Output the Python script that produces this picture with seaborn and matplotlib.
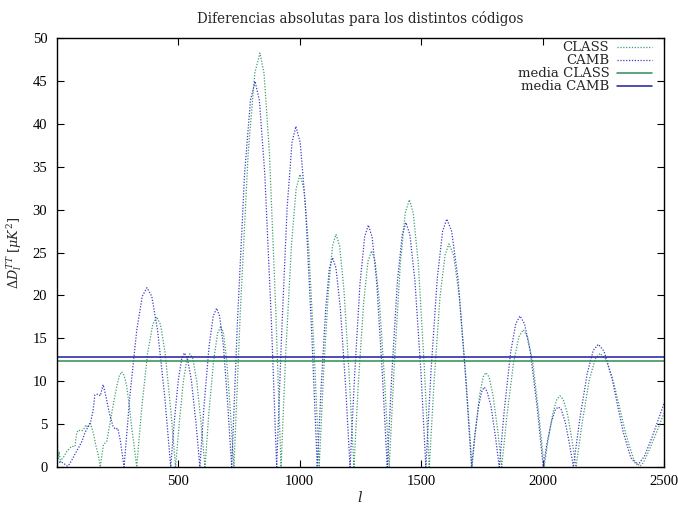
import matplotlib
matplotlib.use("Agg")
import matplotlib.pyplot as plt
import seaborn as sns
import pandas as pd

# ---- data ----
l_camb = [2, 8, 15, 25, 35, 45, 55, 65, 76, 90, 105, 117, 130, 140, 150, 158, 170, 180, 192, 205, 218, 232, 242, 252, 262, 270, 278,
          301, 330, 353, 372, 392, 416, 446, 470,
          484, 501, 515, 526, 539, 555, 574, 590,
          607, 628, 645, 659, 671, 687, 705, 721,
          745, 774, 798, 817, 835, 857, 884, 906,
          926, 949, 969, 985, 1003, 1025, 1051, 1073,
          1089, 1108, 1123, 1136, 1150, 1168, 1190, 1208,
          1227, 1249, 1268, 1283, 1299, 1318, 1341, 1361,
          1380, 1403, 1423, 1438, 1454, 1475, 1500, 1520,
          1541, 1567, 1589, 1606, 1626, 1652, 1682, 1708,
          1721, 1737, 1750, 1760, 1772, 1788, 1806, 1822,
          1843, 1869, 1890, 1907, 1926, 1950, 1979, 2003,
          2018, 2037, 2053, 2065, 2077, 2093, 2111, 2127,
          2153, 2184, 2209, 2230, 2253, 2285, 2308, 2332, 2363, 2387, 2400, 2420, 2450, 2475, 2500]
d_camb = [0.3, 0.5, 0.6, 0.5, 0.3, 0.1, 0.4, 0.9, 1.5, 2.2, 3.0, 4.0, 4.7, 5.2, 6.5, 8.4, 8.5, 8.3, 9.6, 8.0, 6.2, 4.8, 4.4, 4.5, 3.2, 1.6, 0.0,
          8.0, 15.9, 19.9, 20.9, 19.9, 15.9, 8.0, 0.0,
          5.1, 10.1, 12.6, 13.3, 12.6, 10.1, 5.1, 0.0,
          7.1, 14.1, 17.6, 18.5, 17.6, 14.1, 7.1, 0.0,
          17.2, 34.2, 42.7, 44.95, 42.7, 34.2, 17.2, 0.0,
          15.2, 30.2, 37.8, 39.7, 37.8, 30.2, 15.2, 0.0,
          9.3, 18.5, 23.2, 24.4, 23.2, 18.5, 9.3, 0.0,
          10.8, 21.4, 26.8, 28.2, 26.8, 21.4, 10.8, 0.0,
          10.9, 21.7, 27.1, 28.5, 27.1, 21.7, 10.9, 0.0,
          11.1, 22.0, 27.5, 28.9, 27.5, 22.0, 11.1, 0.0,
          3.6, 7.1, 8.8, 9.3, 8.8, 7.1, 3.6, 0.0,
          6.7, 13.4, 16.7, 17.6, 16.7, 13.4, 6.7, 0.0,
          2.7, 5.3, 6.7, 7.0, 6.7, 5.3, 2.7, 0.0,
          5.5, 10.9, 13.6, 14.3, 13.5, 10.5, 7.3, 4.1, 1.1, 0.3, 0.5, 1.3, 3.4, 5.4, 7.4]

l_class = [2, 4, 7, 11, 16, 22, 30, 42, 52, 62, 76, 83, 90, 100, 110, 121, 130, 138, 151, 162, 172, 180,
           193, 207, 220, 235, 248, 258, 268, 278, 289, 300, 309, 320, 330,
           350, 375, 396, 412, 428, 447, 470, 490,
           505, 522, 537, 549, 561, 577, 595, 611,
           627, 647, 663, 676, 687, 700, 716, 730,
           757, 789, 816, 837, 854, 876, 902, 924,
           943, 967, 986, 1002, 1018, 1037, 1061, 1081,
           1098, 1119, 1136, 1150, 1165, 1183, 1205, 1224,
           1242, 1264, 1282, 1297, 1311, 1329, 1351, 1369,
           1390, 1415, 1435, 1452, 1468, 1489, 1513, 1534,
           1554, 1578, 1599, 1615, 1634, 1658, 1686, 1710,
           1724, 1741, 1756, 1767, 1780, 1796, 1816, 1832,
           1854, 1881, 1903, 1921, 1938, 1960, 1985, 2007,
           2023, 2043, 2059, 2072, 2085, 2102, 2121, 2138,
           2163, 2192, 2217, 2237, 2262, 2294, 2319, 2344, 2376, 2401, 2415, 2435, 2460, 2480, 2500]
d_class = [0.5, 2.6, 1.0, 1.8, 0.6, 0.9, 1.2, 1.8, 2.1, 2.4, 2.4, 4.0, 4.3, 4.2, 4.3, 4.9, 4.6, 5.2, 4.0, 2.5, 1.4, 0.0,
           2.6, 3.0, 5.1, 7.5, 9.4, 10.6, 11.1, 10.7, 9.4, 7.0, 4.7, 2.3, 0.0,
           6.7, 13.3, 16.6, 17.5, 16.6, 13.3, 6.7, 0.0,
           5.1, 10.0, 12.6, 13.2, 12.6, 10.0, 5.1, 0.0,
           6.3, 12.5, 15.6, 16.4, 15.6, 12.5, 6.3, 0.0,
           18.5, 36.7, 45.9, 48.25, 45.9, 36.7, 18.5, 0.0,
           13.1, 25.9, 32.4, 34.1, 32.4, 25.9, 13.1, 0.0,
           10.4, 20.6, 25.8, 27.1, 25.8, 20.6, 10.4, 0.0,
           9.7, 19.2, 24.0, 25.2, 24.0, 19.2, 9.7, 0.0,
           11.9, 23.7, 29.6, 31.15, 29.6, 23.7, 11.9, 0.0,
           10.0, 19.8, 24.7, 26.0, 24.7, 19.8, 10.0, 0.0,
           4.2, 8.4, 10.5, 11.0, 10.5, 8.4, 4.2, 0.0,
           6.1, 12.2, 15.2, 16.0, 15.2, 12.2, 6.1, 0.0,
           3.2, 6.3, 7.9, 8.3, 7.9, 6.3, 3.2, 0.0,
           5.1, 10.1, 12.6, 13.25, 12.5, 9.7, 6.7, 3.7, 0.8, 0.1, 0.5, 1.7, 3.4, 4.8, 6.3]

mean_class = 12.3
mean_camb = 12.85
l_range = [2, 2500]

labels = ["CLASS", "CAMB", "media CLASS", "media CAMB"]
x_ticks = [500, 1000, 1500, 2000, 2500]
y_ticks = [0, 5, 10, 15, 20, 25, 30, 35, 40, 45, 50]

# ---- style ----
sns.set_style("ticks")
plt.rcParams["font.family"] = ["DejaVu Serif"]
plt.rcParams["mathtext.fontset"] = "dejavuserif"
plt.rcParams["xtick.direction"] = "in"
plt.rcParams["ytick.direction"] = "in"
plt.rcParams["xtick.top"] = True
plt.rcParams["ytick.right"] = True

fig = plt.figure(figsize=(6.78, 5.07), dpi=100)
ax = fig.add_axes([57 / 678, 40 / 507, (664 - 57) / 678, (467 - 38) / 507])

c_class_dot = "#3f9e6e"
c_camb_dot = "#3c3cc8"
c_class = "#2e8b57"
c_camb = "#1c1ca0"

sns.lineplot(x=l_class, y=d_class, ax=ax, color=c_class_dot, lw=0.9,
             linestyle=(0, (1, 1.3)), sort=False, estimator=None, label=labels[0])
sns.lineplot(x=l_camb, y=d_camb, ax=ax, color=c_camb_dot, lw=0.9,
             linestyle=(0, (1, 1.3)), sort=False, estimator=None, label=labels[1])
sns.lineplot(x=l_range, y=[mean_class, mean_class], ax=ax, color=c_class, lw=1.1,
             sort=False, estimator=None, label=labels[2])
sns.lineplot(x=l_range, y=[mean_camb, mean_camb], ax=ax, color=c_camb, lw=1.1,
             sort=False, estimator=None, label=labels[3])

ax.set_xlim(2, 2500)
ax.set_ylim(0, 50)
ax.set_xticks(x_ticks)
ax.set_yticks(y_ticks)
ax.tick_params(axis="both", length=5, width=0.8, colors="black")
ax.tick_params(axis="x", pad=6)
ax.tick_params(axis="y", pad=7)
for lab in ax.get_xticklabels() + ax.get_yticklabels():
    lab.set_fontfamily("Liberation Serif")
    lab.set_fontsize(10.5)
for s in ax.spines.values():
    s.set_linewidth(1.0)
    s.set_color("black")

ax.set_xlabel("$l$", fontsize=10.5, labelpad=1)
ax.set_ylabel(r"$\Delta D_l^{TT}\ [\mu K^2]$", fontsize=9.2, labelpad=6)
ax.set_title("Diferencias absolutas para los distintos códigos", fontsize=9.75, pad=11)

leg = ax.legend(loc="upper right", markerfirst=False, frameon=False, fontsize=9.5,
                handlelength=2.6, labelspacing=0.0, handletextpad=0.6,
                borderaxespad=0.0, borderpad=0.25, bbox_to_anchor=(0.985, 1.0))

fig.savefig("out.png", dpi=100)
